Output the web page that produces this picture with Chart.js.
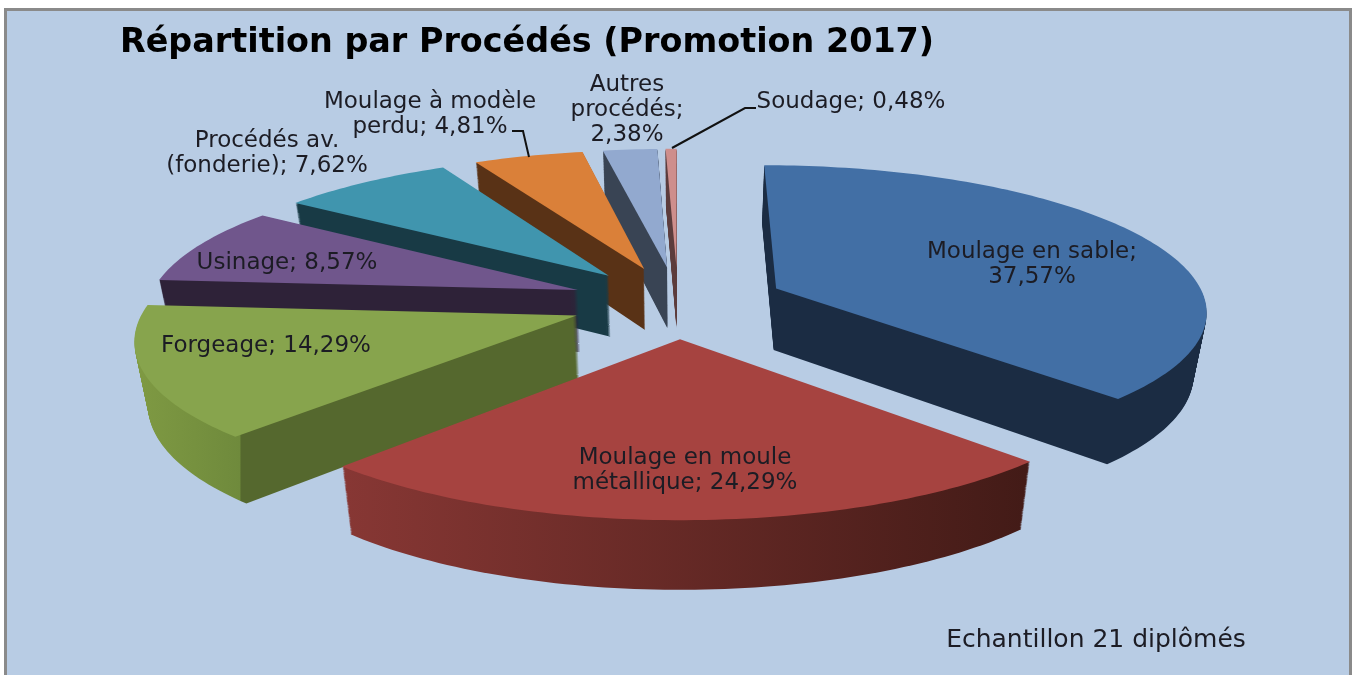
<html>
<head>
	<title>Répartition par Procédés</title>
	<script src="https://cdn.jsdelivr.net/npm/chart.js@4/dist/chart.umd.min.js"></script>
	<style type="text/css">
	body{
		margin: 0;
		background-color: #fff;
	}
	#panel{
		position: absolute;
		left: 4px;
		top: 8px;
		width: 1348px;
		height: 667px;
		box-sizing: border-box;
		background-color: #b8cce4;
		border: 3px solid #8a8a8a;
		border-bottom: none;
	}
	#chart{
		position: absolute;
		left: 0;
		top: 0;
	}
	</style>
</head>
<body>
	<div id="panel"></div>
	<canvas id="chart" width="1357" height="675"></canvas>
	<script type="text/javascript">
	var categories = ["Moulage en sable", "Moulage en moule métallique", "Forgeage", "Usinage", "Procédés av. (fonderie)", "Moulage à modèle perdu", "Autres procédés", "Soudage"];
	var values = [37.57, 24.29, 14.29, 8.57, 7.62, 4.81, 2.38, 0.48];
	var titleText = "Répartition par Procédés (Promotion 2017)";
	var noteText = "Echantillon 21 diplômés";

	var topColors = ["#426fa5", "#a64340", "#87a44d", "#70568c", "#4095ae", "#da8039", "#92a9cf", "#ce8e8c"];
	// wall colours as gradient stops, x from 135 to 1025
	var wallStops = [
		[[0, "#1b2c43"], [1, "#1b2c43"]],
		[[0.236, "#873734"], [1, "#431b17"]],
		[[0, "#7f9a43"], [0.118, "#6f8a3c"], [0.119, "#55682e"], [1, "#55682e"]],
		[[0, "#2e2238"], [1, "#2e2238"]],
		[[0, "#183a45"], [1, "#183a45"]],
		[[0, "#593216"], [1, "#593216"]],
		[[0, "#394454"], [1, "#394454"]],
		[[0, "#5c3c3c"], [1, "#5c3c3c"]]
	];

	// perspective of the pie plane, fitted on the picture
	var view = {cx: 678, cy: 302, rx: 430, ry: 144, persp: 0.14, depth: 62, taper: 0.025};

	// center x, first baseline, wrap width of each data label
	var labelSpots = [
		[1032, 258, 260], [685, 464, 260], [266, 352, 300], [287, 269, 300],
		[267, 147, 240], [430, 108, 250], [627, 91, 125], [851, 108, 300]
	];

	function project(u, v, t){
		var w = 1 - view.persp * v;
		var s = 1 - view.taper * t;
		return {
			x: view.cx + view.rx * s * u / w,
			y: view.cy + (view.ry * s * v + view.depth * t) / w
		};
	}

	// outline of one arc in the tilted plane, t=0 is the top face and t=1 the bottom
	function slicePath(ctx, arc, t){
		var p = arc.getProps(["startAngle", "endAngle", "outerRadius"]);
		var mid = (p.startAngle + p.endAngle) / 2;
		var e = arc.options.offset / p.outerRadius;
		var ou = Math.cos(mid) * e, ov = Math.sin(mid) * e;
		var steps = Math.ceil((p.endAngle - p.startAngle) / 0.02);
		var pt = project(ou, ov, t);
		ctx.beginPath();
		ctx.moveTo(pt.x, pt.y);
		for(var i = 0; i <= steps; i++){
			var a = p.startAngle + (p.endAngle - p.startAngle) * i / steps;
			pt = project(ou + Math.cos(a), ov + Math.sin(a), t);
			ctx.lineTo(pt.x, pt.y);
		}
		ctx.closePath();
	}

	var tiltedPie = {
		id: "tiltedPie",
		beforeDatasetsDraw: function(chart){
			var ctx = chart.ctx;
			var arcs = chart.getDatasetMeta(0).data;
			var order = arcs.map(function(a, i){ return i; });
			// back slices first
			order.sort(function(a, b){
				return Math.sin((arcs[a].startAngle + arcs[a].endAngle) / 2) - Math.sin((arcs[b].startAngle + arcs[b].endAngle) / 2);
			});
			ctx.save();
			order.forEach(function(i){
				var arc = arcs[i];
				var grad = ctx.createLinearGradient(135, 0, 1025, 0);
				wallStops[i].forEach(function(s){
					grad.addColorStop(s[0], s[1]);
				});
				ctx.fillStyle = grad;
				for(var n = view.depth; n > 0; n--){
					slicePath(ctx, arc, n / view.depth);
					ctx.fill();
				}
				slicePath(ctx, arc, 0);
				ctx.fillStyle = arc.options.backgroundColor;
				ctx.fill();
			});
			ctx.restore();
			return false;
		},
		afterDraw: function(chart){
			var ctx = chart.ctx;
			ctx.save();
			ctx.strokeStyle = "#111";
			ctx.lineWidth = 2;
			ctx.beginPath();
			ctx.moveTo(512, 131); ctx.lineTo(523, 131); ctx.lineTo(529, 157);
			ctx.moveTo(672, 148); ctx.lineTo(745, 108); ctx.lineTo(756, 108);
			ctx.stroke();

			ctx.font = "23px 'DejaVu Sans'";
			ctx.fillStyle = "#1c1c24";
			ctx.textAlign = "center";
			ctx.textBaseline = "alphabetic";
			categories.forEach(function(name, i){
				var text = name + "; " + values[i].toFixed(2).replace(".", ",") + "%";
				var spot = labelSpots[i];
				var lines = [], line = "";
				text.split(" ").forEach(function(word){
					var next = line ? line + " " + word : word;
					if(line && ctx.measureText(next).width > spot[2]){
						lines.push(line);
						line = word;
					}else{
						line = next;
					}
				});
				lines.push(line);
				lines.forEach(function(l, k){
					ctx.fillText(l, spot[0], spot[1] + k * 25);
				});
			});
			ctx.font = "25px 'DejaVu Sans'";
			ctx.fillText(noteText, 1096, 647);
			ctx.restore();
		}
	};

	new Chart(document.getElementById("chart").getContext("2d"), {
		type: "pie",
		data: {
			labels: categories,
			datasets: [{
				data: values,
				backgroundColor: topColors,
				borderWidth: 0,
				offset: 60
			}]
		},
		options: {
			responsive: false,
			animation: false,
			radius: 240,
			layout: {padding: {left: 120}},
			plugins: {
				legend: {display: false},
				tooltip: {enabled: false},
				title: {
					display: true,
					text: titleText,
					align: "start",
					color: "#000",
					font: {family: "'DejaVu Sans'", size: 33.4, weight: "bold"},
					padding: {top: 23, bottom: 0}
				}
			}
		},
		plugins: [tiltedPie]
	});
	</script>
</body>
</html>
